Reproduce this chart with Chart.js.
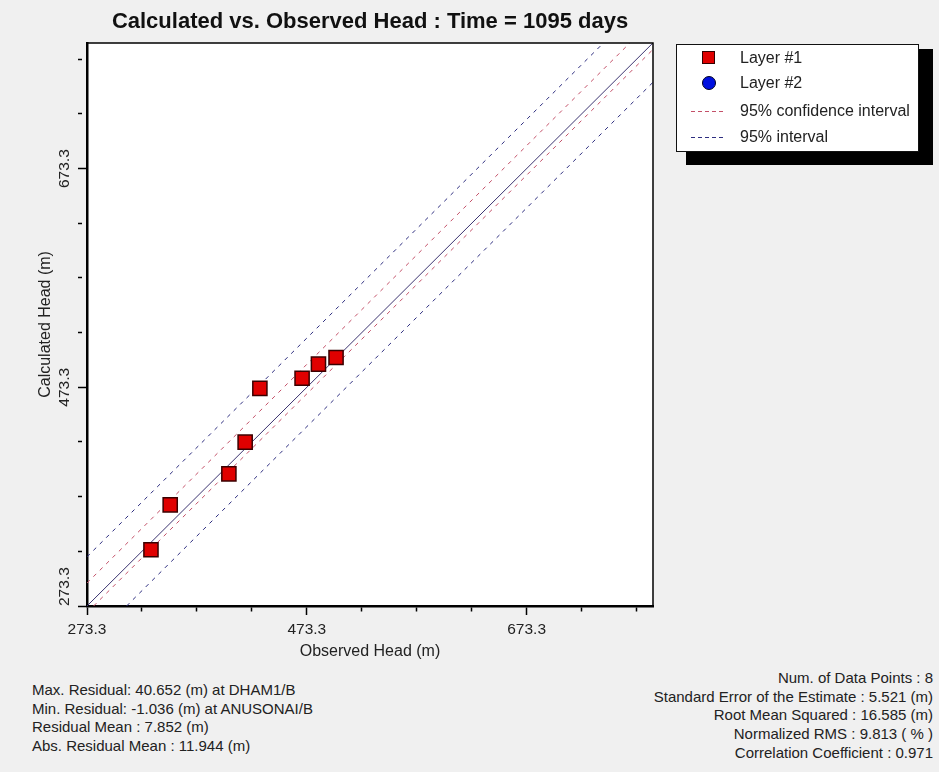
<!DOCTYPE html>
<html>
<head>
<meta charset="utf-8">
<title>Calculated vs. Observed Head</title>
<script src="https://cdn.jsdelivr.net/npm/chart.js@4.4.1/dist/chart.umd.min.js"></script>
<style>
  body { margin: 0; background: #f0f0f0; font-family: "Liberation Sans", Arial, sans-serif; color: #222; }
  #wrap { position: relative; width: 939px; height: 772px; overflow: hidden; }
  #chart { position: absolute; left: 0; top: 0; }
  #legendShadow { position: absolute; left: 686px; top: 49px; width: 247px; height: 116px; background: #000; }
  #legend { position: absolute; left: 676px; top: 44px; width: 241px; height: 106px; background: #fff; border: 1px solid #111; }
  #legend .item { position: absolute; left: 0; width: 100%; height: 20px; line-height: 20px; font-size: 16px; }
  #legend .txt { position: absolute; left: 63px; white-space: nowrap; }
  #legend .mk { position: absolute; }
  .sq { left: 25px; top: 3px; width: 11px; height: 11px; background: #e00000; border: 1px solid #300; }
  .dot { left: 25px; top: 3px; width: 12px; height: 12px; border-radius: 50%; background: #0010e0; border: 1px solid #002; }
  .dash { left: 14px; top: 10px; width: 32px; height: 1px; }
  .stats { position: absolute; font-size: 15px; line-height: 18.7px; white-space: nowrap; }
  #statsLeft { left: 32px; top: 681px; }
  #statsRight { right: 6px; top: 669px; text-align: right; }
</style>
</head>
<body>
<div id="wrap">
  <canvas id="chart" width="740" height="665"></canvas>
  <div id="legendShadow"></div>
  <div id="legend"></div>
  <div id="statsLeft" class="stats"></div>
  <div id="statsRight" class="stats"></div>
</div>
<script>
// values
const layer1Observed = [331.5, 349.0, 402.4, 417.2, 430.6, 469.0, 483.9, 499.9];
const layer1Calculated = [324.7, 365.8, 394.1, 423.2, 472.4, 481.6, 494.5, 500.6];
const layer2Observed = [];
const layer2Calculated = [];

const axisMin = 273.3;
const axisMax = 788.3;
const tickValues = [273.3, 323.3, 373.3, 423.3, 473.3, 523.3, 573.3, 623.3, 673.3, 723.3, 773.3];
const tickLabels = ['273.3', '473.3', '673.3'];

// 1:1 line and interval lines (end points)
const identityX = [273.3, 788.3];
const identityY = [273.3, 788.3];
const confUpperX = [273.3, 767.3];
const confUpperY = [294.3, 788.3];
const confLowerX = [279.3, 788.3];
const confLowerY = [273.3, 782.3];
const intUpperX = [273.3, 743.3];
const intUpperY = [318.3, 788.3];
const intLowerX = [309.3, 788.3];
const intLowerY = [273.3, 752.3];

const legendLabels = ['Layer #1', 'Layer #2', '95% confidence interval', '95% interval'];
const statsLeft = [
  'Max. Residual: 40.652 (m) at DHAM1/B',
  'Min. Residual: -1.036 (m) at ANUSONAI/B',
  'Residual Mean : 7.852 (m)',
  'Abs. Residual Mean : 11.944 (m)'
];
const statsRight = [
  'Num. of Data Points : 8',
  'Standard Error of the Estimate : 5.521 (m)',
  'Root Mean Squared : 16.585 (m)',
  'Normalized RMS : 9.813 ( % )',
  'Correlation Coefficient : 0.971'
];

const red = '#e00000';
const confColor = '#c45068';
const intColor = '#2e2e80';
const oneToOne = '#3c3470';
const fontFamily = '"Liberation Sans", Arial, sans-serif';
const tickFontSize = 15.5;

const toPoints = (xs, ys) => xs.map((x, i) => ({ x: x, y: ys[i] }));
const isMajor = (v) => tickLabels.includes(Number(v).toFixed(1));

const plotFrame = {
  id: 'plotFrame',
  beforeDraw(chart) {
    const { ctx, chartArea: a } = chart;
    ctx.save();
    ctx.fillStyle = '#fff';
    ctx.fillRect(a.left, a.top, a.width, a.height);
    ctx.restore();
  },
  afterDraw(chart) {
    const { ctx, chartArea: a } = chart;
    ctx.save();
    ctx.strokeStyle = '#000';
    ctx.lineWidth = 1.5;
    ctx.beginPath();
    ctx.moveTo(a.left, a.top);
    ctx.lineTo(a.right, a.top);
    ctx.lineTo(a.right, a.bottom);
    ctx.stroke();

    // vertical tick labels of the y axis, kept inside the plot height
    const ys = chart.scales.y;
    ctx.fillStyle = '#222';
    ctx.font = tickFontSize + 'px ' + fontFamily;
    ctx.textAlign = 'center';
    ctx.textBaseline = 'middle';
    tickLabels.forEach((t) => {
      const py = ys.getPixelForValue(parseFloat(t));
      const w = ctx.measureText(t).width;
      let shift = 0;
      if (py + w / 2 > a.bottom) shift = py + w / 2 - a.bottom;
      ctx.save();
      ctx.translate(ys.right - 22.5, py);
      ctx.rotate(-Math.PI / 2);
      ctx.fillText(t, shift, 0);
      ctx.restore();
    });
    ctx.restore();
  }
};

const setTicks = (scale) => {
  scale.ticks = tickValues.map((v) => ({ value: v }));
};
const tickText = (value) => (isMajor(value) ? Number(value).toFixed(1) : '');
const tickDash = (c) => (c.tick && isMajor(c.tick.value) ? [] : [4, 40]);

const lineSet = (label, xs, ys, color, dash) => ({
  type: 'line',
  label: label,
  data: toPoints(xs, ys),
  borderColor: color,
  borderWidth: 1,
  borderDash: dash,
  pointRadius: 0,
  fill: false,
  showLine: true
});

new Chart(document.getElementById('chart').getContext('2d'), {
  type: 'scatter',
  data: {
    datasets: [
      {
        label: legendLabels[0],
        data: toPoints(layer1Observed, layer1Calculated),
        pointStyle: 'rect',
        pointRadius: 10,
        pointHoverRadius: 10,
        backgroundColor: red,
        borderColor: '#3a0000',
        borderWidth: 1.5
      },
      {
        label: legendLabels[1],
        data: toPoints(layer2Observed, layer2Calculated),
        pointStyle: 'circle',
        pointRadius: 6,
        backgroundColor: '#0010e0',
        borderColor: '#000020'
      },
      lineSet('1:1', identityX, identityY, oneToOne, []),
      lineSet(legendLabels[2], confUpperX, confUpperY, confColor, [4, 5]),
      lineSet(legendLabels[2], confLowerX, confLowerY, confColor, [4, 5]),
      lineSet(legendLabels[3], intUpperX, intUpperY, intColor, [4, 5]),
      lineSet(legendLabels[3], intLowerX, intLowerY, intColor, [4, 5])
    ]
  },
  options: {
    responsive: false,
    animation: false,
    layout: { padding: 0 },
    plugins: {
      legend: { display: false },
      tooltip: { enabled: false },
      title: {
        display: true,
        text: 'Calculated vs. Observed Head : Time = 1095 days',
        color: '#111',
        font: { family: fontFamily, size: 22, weight: 'bold' },
        padding: { top: 8.5, bottom: 8 }
      }
    },
    scales: {
      x: {
        type: 'linear',
        position: 'bottom',
        min: axisMin,
        max: axisMax,
        afterBuildTicks: setTicks,
        afterFit: (s) => { s.height = 59; },
        ticks: {
          callback: tickText,
          autoSkip: false,
          maxRotation: 0,
          padding: 5,
          color: '#222',
          font: { family: fontFamily, size: tickFontSize }
        },
        grid: { drawOnChartArea: false, drawTicks: true, tickLength: 9, tickColor: '#000', tickWidth: 1.5, tickBorderDash: tickDash },
        border: { color: '#000', width: 2.5 },
        title: {
          display: true,
          text: 'Observed Head (m)',
          color: '#222',
          font: { family: fontFamily, size: 16 },
          padding: { top: 0, bottom: 4 }
        }
      },
      y: {
        type: 'linear',
        position: 'left',
        min: axisMin,
        max: axisMax,
        afterBuildTicks: setTicks,
        afterFit: (s) => { s.width = 87; },
        ticks: { display: false },
        grid: { drawOnChartArea: false, drawTicks: true, tickLength: 9, tickColor: '#000', tickWidth: 1.5, tickBorderDash: tickDash },
        border: { color: '#000', width: 2.5 },
        title: {
          display: true,
          text: 'Calculated Head (m)',
          color: '#222',
          font: { family: fontFamily, size: 16 },
          padding: { top: 36, bottom: 0 }
        }
      },
      spacer: {
        type: 'linear',
        position: 'right',
        min: 0,
        max: 1,
        afterFit: (s) => { s.width = 87; },
        ticks: { display: false },
        grid: { display: false },
        border: { display: false }
      }
    }
  },
  plugins: [plotFrame]
});

// legend box
const legendMarkers = [
  '<span class="mk sq"></span>',
  '<span class="mk dot"></span>',
  '<span class="mk dash" style="background:repeating-linear-gradient(to right,' + confColor + ' 0 4px,transparent 4px 7px)"></span>',
  '<span class="mk dash" style="background:repeating-linear-gradient(to right,' + intColor + ' 0 4px,transparent 4px 7px)"></span>'
];
const legendTops = [3, 28, 56, 82];
document.getElementById('legend').innerHTML = legendLabels.map((t, i) =>
  '<div class="item" style="top:' + legendTops[i] + 'px">' + legendMarkers[i] +
  '<span class="txt">' + t + '</span></div>').join('');

document.getElementById('statsLeft').innerHTML = statsLeft.join('<br>');
document.getElementById('statsRight').innerHTML = statsRight.join('<br>');
</script>
</body>
</html>
